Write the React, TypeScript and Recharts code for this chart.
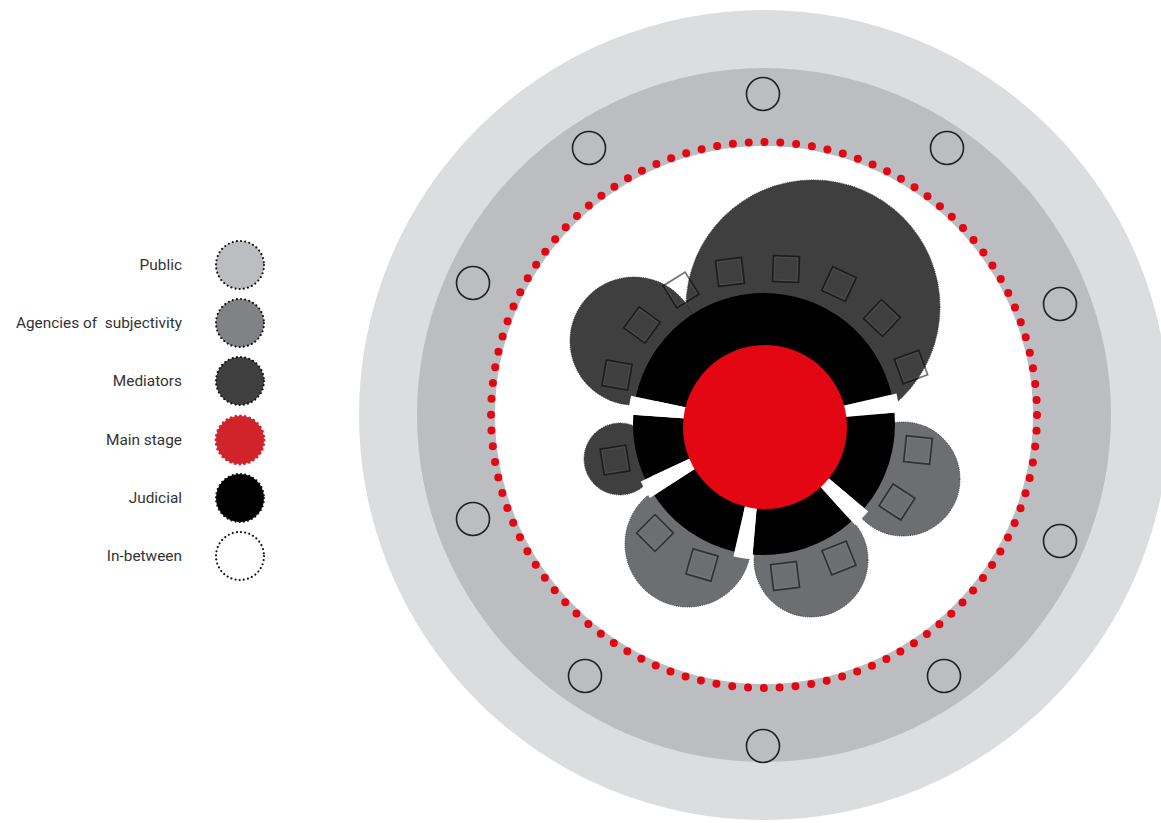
import { ScatterChart, Scatter, XAxis, YAxis, Legend, Sector } from 'recharts';

// everything is placed in pixels around the centre of the rings, y grows downward
const W = 1161;
const H = 823;
const CX = 764;
const CY = 415;

// concentric grounds: outer public, public ring, in-between floor
const groundNames = ['outer', 'ring', 'floor'];
const groundRadius = [405, 347, 269];
const boundaryRadius = 273;
const boundaryDots = 108;

// hollow seats on the public ring
const seatX = [-1, -175, 183, -291, 296, -291, 296, -179, 180, -1];
const seatY = [-321, -267, -267, -132, -111, 104, 126, 261, 261, 331];

// mediators
const mediatorX = [49, -130, -144];
const mediatorY = [-108, -74, 44];
const mediatorR = [127, 64, 36];

// agencies of subjectivity
const agencyX = [-76, 47, 139];
const agencyY = [129, 145, 64];
const agencyR = [63, 57, 57];

// judicial ring: spans in degrees, counter-clockwise from 3 o'clock
const judicialCentre = { x: 0, y: 9 };
const judicialRadius = 131;
const judicialStart = 13;
const judicialSpans = [155, 29, 44, 47, 45];
const judicialGap = 8;

// main stage
const stageCentre = { x: 1, y: 12 };
const stageRadius = 82;

// small square markers
const squareX = [-34, 22, 75, 118, 147, -122, -147, -83, -149, -109, -62, 21, 75, 133, 154];
const squareY = [-143, -146, -131, -97, -48, -90, -40, -125, 45, 118, 150, 161, 143, 87, 35];
const squareRot = [-7, 2, 25, 43, -20, 36, 10, -32, -9, 45, 16, -7, -22, 33, 6];

// legend
const legendLabels = ['Public', 'Agencies of  subjectivity', 'Mediators', 'Main stage', 'Judicial', 'In-between'];
const legendFills = ['#bcbdc0', '#808285', '#3f3f3f', '#d1232a', '#000000', '#ffffff'];

const groundFill: Record<string, string> = { outer: '#dcdddf', ring: '#bcbdc0', floor: '#ffffff' };
const RED = '#e30613';

const grounds = groundNames.map((name, i) => ({ x: 0, y: 0, r: groundRadius[i], name }));
const boundary = [{ x: 0, y: 0, r: boundaryRadius }];
const seats = seatX.map((x, i) => ({ x, y: seatY[i] }));
const mediators = mediatorX.map((x, i) => ({ x, y: mediatorY[i], r: mediatorR[i] }));
const agencies = agencyX.map((x, i) => ({ x, y: agencyY[i], r: agencyR[i] }));
const squares = squareX.map((x, i) => ({ x, y: squareY[i], rot: squareRot[i] }));
const judicial = [judicialCentre];
const stage = [{ ...stageCentre, r: stageRadius }];

const GroundShape = (props: any) => {
  const { cx, cy, payload } = props;
  return <circle cx={cx} cy={cy} r={payload.r} fill={groundFill[payload.name]} />;
};

const BoundaryShape = (props: any) => {
  const { cx, cy, payload } = props;
  const step = (2 * Math.PI * payload.r) / boundaryDots;
  return (
    <circle
      cx={cx}
      cy={cy}
      r={payload.r}
      fill="none"
      stroke={RED}
      strokeWidth={8}
      strokeLinecap="round"
      strokeDasharray={`0 ${step}`}
    />
  );
};

const SeatShape = (props: any) => {
  const { cx, cy } = props;
  return <circle cx={cx} cy={cy} r={16.5} fill="none" stroke="#231f20" strokeWidth={1.6} />;
};

const blob = (fill: string) => (props: any) => {
  const { cx, cy, payload } = props;
  return (
    <circle
      cx={cx}
      cy={cy}
      r={payload.r}
      fill={fill}
      stroke="#1a1a1a"
      strokeWidth={0.8}
      strokeDasharray="1 1.2"
    />
  );
};

const SquareShape = (props: any) => {
  const { cx, cy, payload } = props;
  return (
    <g transform={`rotate(${payload.rot} ${cx} ${cy})`}>
      <rect x={cx - 13} y={cy - 13} width={26} height={26} fill="none" stroke="#000" strokeOpacity={0.55} strokeWidth={1.7} />
      <rect x={cx - 11.5} y={cy - 11.5} width={23} height={23} fill="none" stroke="#fff" strokeOpacity={0.08} strokeWidth={1} />
    </g>
  );
};

const JudicialShape = (props: any) => {
  const { cx, cy } = props;
  const pieces: any[] = [];
  const gaps: any[] = [];
  let a = judicialStart;
  judicialSpans.forEach((span, i) => {
    pieces.push(
      <Sector key={'p' + i} cx={cx} cy={cy} innerRadius={0} outerRadius={judicialRadius} startAngle={a} endAngle={a + span} fill="#000" />
    );
    a += span;
    gaps.push(
      <Sector key={'g' + i} cx={cx} cy={cy} innerRadius={0} outerRadius={judicialRadius + 5} startAngle={a} endAngle={a + judicialGap} fill="#fff" />
    );
    a += judicialGap;
  });
  return (
    <g>
      {pieces}
      {gaps}
    </g>
  );
};

const StageShape = (props: any) => {
  const { cx, cy, payload } = props;
  return <circle cx={cx} cy={cy} r={payload.r} fill={RED} />;
};

const legendMarker = (fill: string, i: number) => {
  const isStage = i === 3;
  return (
    <circle
      cx={58}
      cy={29}
      r={24}
      fill={fill}
      stroke={isStage ? fill : '#111'}
      strokeWidth={isStage ? 3 : 2.2}
      strokeLinecap="round"
      strokeDasharray={isStage ? '0 4.7' : '0 4.2'}
    />
  );
};

const renderLegend = () => (
  <div style={{ fontFamily: 'Roboto, sans-serif', fontSize: 15.4, color: '#333' }}>
    {legendLabels.map((label, i) => (
      <div key={label} style={{ display: 'flex', alignItems: 'center', height: 58.2 }}>
        <span style={{ width: 182, textAlign: 'right', whiteSpace: 'pre' }}>{label}</span>
        <svg width={90} height={58}>
          {legendMarker(legendFills[i], i)}
        </svg>
      </div>
    ))}
  </div>
);

export default function App() {
  return (
    <div style={{ position: 'absolute', left: 0, top: 0, width: W, height: H, background: '#fff' }}>
      <ScatterChart width={W} height={H} margin={{ top: 0, right: 0, bottom: 0, left: 0 }}>
        <XAxis type="number" dataKey="x" domain={[-CX, W - CX]} hide />
        <YAxis type="number" dataKey="y" domain={[-CY, H - CY]} reversed hide />
        <Legend
          layout="vertical"
          align="center"
          verticalAlign="middle"
          content={renderLegend}
          wrapperStyle={{ left: 0, top: 236, width: 280 }}
        />
        <Scatter name="grounds" data={grounds} shape={GroundShape} isAnimationActive={false} legendType="none" />
        <Scatter name="boundary" data={boundary} shape={BoundaryShape} isAnimationActive={false} legendType="none" />
        <Scatter name="seats" data={seats} shape={SeatShape} isAnimationActive={false} legendType="none" />
        <Scatter name="Mediators" data={mediators} shape={blob('#3f3f3f')} isAnimationActive={false} />
        <Scatter name="Agencies of subjectivity" data={agencies} shape={blob('#6d6e71')} isAnimationActive={false} />
        <Scatter name="In-between" data={squares} shape={SquareShape} isAnimationActive={false} />
        <Scatter name="Judicial" data={judicial} shape={JudicialShape} isAnimationActive={false} />
        <Scatter name="Main stage" data={stage} shape={StageShape} isAnimationActive={false} />
      </ScatterChart>
    </div>
  );
}
